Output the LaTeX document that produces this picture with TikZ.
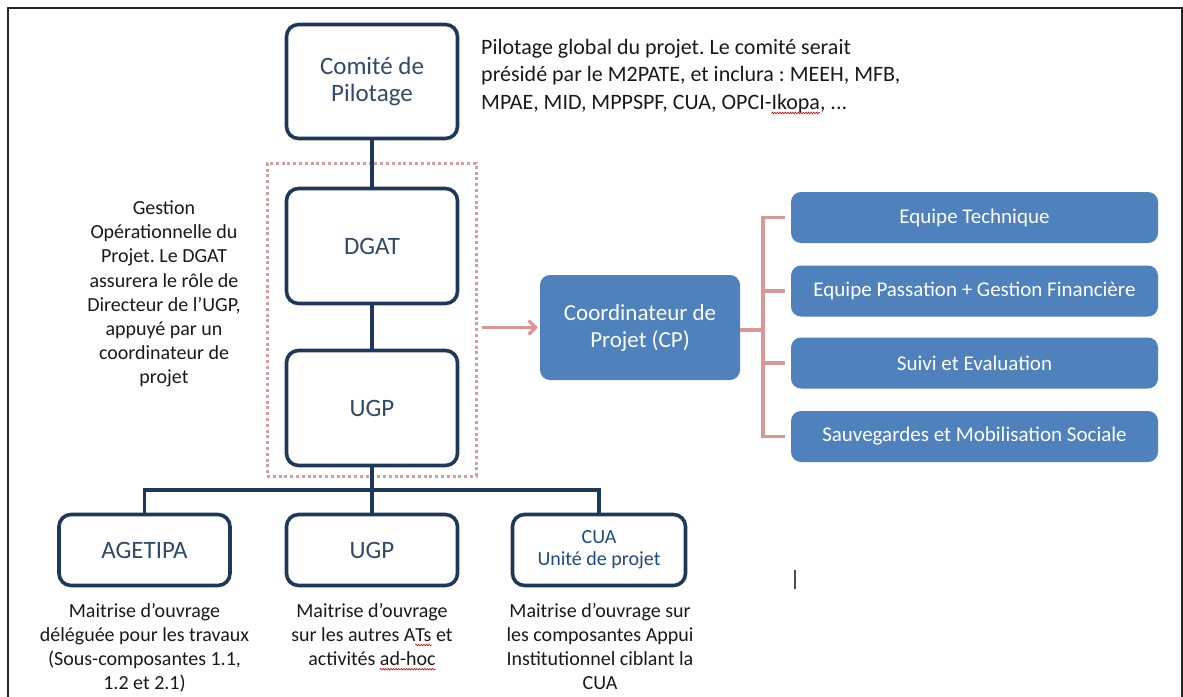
\documentclass[tikz,border=0pt]{standalone}
\usepackage{fontspec}
\setmainfont{Carlito}
\usetikzlibrary{arrows.meta,decorations.pathmorphing}
\frenchspacing
\definecolor{marine}{RGB}{31,56,90}
\definecolor{ardoise}{RGB}{48,74,104}
\definecolor{bleucua}{RGB}{31,73,125}
\definecolor{bleuboite}{RGB}{79,129,189}
\definecolor{rose}{RGB}{217,150,148}
\definecolor{rosepale}{RGB}{212,158,156}
\definecolor{encre}{RGB}{25,25,25}
% soulignement ondule rouge (correcteur)
\newsavebox\fautebox
\newcommand\faute[1]{\sbox\fautebox{#1}\leavevmode\rlap{\usebox\fautebox}%
	\tikz[overlay]\draw[red!80!black,line width=0.6pt,decorate,decoration={zigzag,amplitude=0.8pt,segment length=2.6pt}]
	(0pt,-3.5pt) -- (\the\wd\fautebox,-3.5pt);\kern\wd\fautebox\relax}
\begin{document}
\begin{tikzpicture}[x=1pt,y=-1pt]
			% Styles
			\tikzstyle{boite}=[draw=marine,line width=3.6pt,rounded corners=12pt,fill=white,text=ardoise,
				minimum width=171pt,align=center,font=\fontsize{25}{27}\selectfont]
			\tikzstyle{boitebleue}=[fill=bleuboite,rounded corners=10pt,text=white,align=center,
				minimum width=367pt,minimum height=51pt,font=\fontsize{21}{24}\selectfont]
			\tikzstyle{note}=[text=encre,align=center,inner sep=0pt,font=\fontsize{20}{24.2}\selectfont]
			\tikzstyle{trait}=[draw=marine,line width=3.6pt]
			\tikzstyle{lien}=[draw=rose,line width=3.2pt]
			\tikzstyle{fleche}=[lien,-{Straight Barb[length=7pt,width=14pt]}]
			\tikzstyle{pointille}=[draw=rosepale,line width=3pt,dash pattern=on 3pt off 2.8pt]
			% Cadre
			\useasboundingbox (0,0) rectangle (1183,696);
			\draw[line width=2.4pt,draw=black!85] (8,710) |- (1182,8) -- (1182,710);
			% Noeuds
			\node[pointille,minimum width=209pt,minimum height=313pt] (cadre) at (371.5,319.5) {};
			\node[boite,minimum height=114pt] (comite) at (372,81.5) {Comité de\\Pilotage};
			\node[boite,minimum height=115pt] (dgat) at (372,246) {DGAT};
			\node[boite,minimum height=115pt] (ugp) at (372,408) {UGP};
			\node[boite,minimum height=71pt] (agetipa) at (144.5,550) {AGETIPA};
			\node[boite,minimum height=71pt] (ugpb) at (372,550) {UGP};
			\node[boite,minimum height=71pt,minimum width=173pt,text=bleucua,
				font=\fontsize{20}{22}\selectfont] (cua) at (599,550) {CUA\\Unité de projet};
			\node[boitebleue,minimum width=200pt,minimum height=105pt,
				font=\fontsize{23}{27}\selectfont] (cp) at (640,327.5) {Coordinateur de\\Projet (CP)};
			\node[boitebleue] (et) at (974.5,217.5) {Equipe Technique};
			\node[boitebleue] (ep) at (974.5,291) {Equipe Passation + Gestion Financière};
			\node[boitebleue] (se) at (974.5,363) {Suivi et Evaluation};
			\node[boitebleue] (sms) at (974.5,436.5) {Sauvegardes et Mobilisation Sociale};
			% Textes
			\node[note,align=left,anchor=north west,font=\fontsize{22}{27.5}\selectfont] (pilotage) at (481,39)
				{Pilotage global du projet. Le comité serait\\présidé par le M2PATE, et inclura : MEEH, MFB,\\MPAE, MID, MPPSPF, CUA, OPCI-\faute{Ikopa}, ...};
			\node[note] (gestion) at (164,294) {Gestion\\Opérationnelle du\\Projet. Le DGAT\\assurera le rôle de\\Directeur de l’UGP,\\appuyé par un\\coordinateur de\\projet};
			\node[note,anchor=north] (tagetipa) at (144.5,603) {Maitrise d’ouvrage\\déléguée pour les travaux\\(Sous-composantes 1.1,\\1.2 et 2.1)};
			\node[note,anchor=north] (tugp) at (372,603) {Maitrise d’ouvrage\\sur les autres A\faute{Ts} et\\activités \faute{ad-hoc}};
			\node[note,anchor=north] (tcua) at (600,603) {Maitrise d’ouvrage sur\\les composantes Appui\\Institutionnel ciblant la\\CUA};
			\coordinate (bus) at (372,490);
			\coordinate (branche) at (763,330);
			\coordinate (curseur) at (795,570);
			% Arcs
			\draw[trait] (comite) -- (dgat);
			\draw[trait] (dgat) -- (ugp);
			\draw[trait] (ugp) -- (ugpb);
			\draw[trait] (agetipa.north) |- (bus) -| (cua.north);
			\draw[fleche] ([xshift=4pt]cadre.east |- cp.west) -- ([xshift=-2pt]cp.west);
			\draw[lien] (cp.east |- branche) -- (branche);
			\draw[lien] ([xshift=-6pt]et.west) -| (branche) |- ([xshift=-6pt]sms.west);
			\draw[lien] ([xshift=-6pt]ep.west) -- (branche |- ep.west);
			\draw[lien] ([xshift=-6pt]se.west) -- (branche |- se.west);
			\draw[line width=1.2pt,draw=black!70] (curseur) -- ++(0,19);
		\end{tikzpicture}
\end{document}
